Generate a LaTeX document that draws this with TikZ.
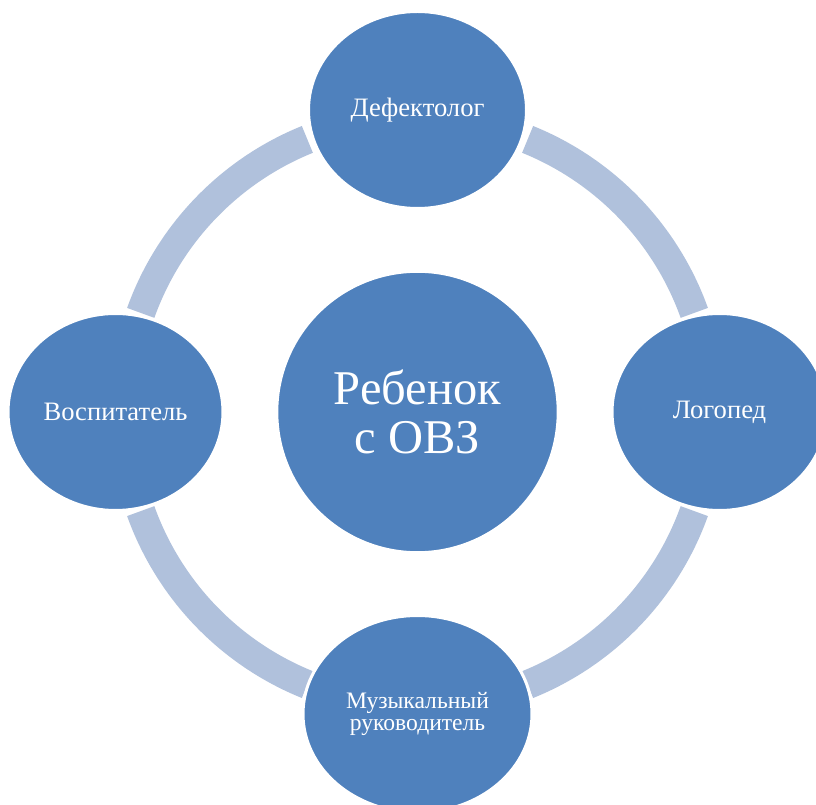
\documentclass[tikz,border=0pt]{standalone}
\usepackage{fontspec}
\setmainfont{Liberation Serif}
\usetikzlibrary{shapes.geometric}
\definecolor{nodeblue}{HTML}{4F81BD}
\definecolor{ringblue}{HTML}{B0C1DC}
\begin{document}
\begin{tikzpicture}[x=1pt,y=1pt,
  role/.style={ellipse, fill=nodeblue, draw=white, line width=3pt, text=white,
    inner sep=0pt, align=center, font=\fontsize{26.6}{26.6}\selectfont},
  ring/.style={draw=ringblue, line width=29pt, line cap=butt}]
\useasboundingbox (0,0) rectangle (816,804);
\coordinate (o) at (417.5,392);
\draw[ring] (o) ++(19.7:294) arc[start angle=19.7, end angle=68, radius=294];
\draw[ring] (o) ++(112:294) arc[start angle=112, end angle=160.3, radius=294];
\draw[ring] (o) ++(199.7:294) arc[start angle=199.7, end angle=248, radius=294];
\draw[ring] (o) ++(292:294) arc[start angle=292, end angle=340.3, radius=294];
\node[circle, fill=nodeblue, draw=white, line width=3pt, minimum size=281.4pt,
  inner sep=0pt, text=white, align=center, font=\fontsize{48.5}{49}\selectfont] (c) at (o) {Ребенок\\с ОВЗ};
\node[role, minimum width=218pt, minimum height=197pt] (top) at (417.5,694) {Дефектолог};
\node[role, minimum width=215pt, minimum height=197pt] (right) at (719.5,392) {Логопед};
\node[role, minimum width=215pt, minimum height=197pt] (left) at (115.5,392) {Воспитатель};
\node[role, minimum width=229pt, minimum height=197pt, font=\fontsize{23.6}{22.5}\selectfont] (bottom) at (417.5,90) {Музыкальный\\руководитель};
\end{tikzpicture}
\end{document}
